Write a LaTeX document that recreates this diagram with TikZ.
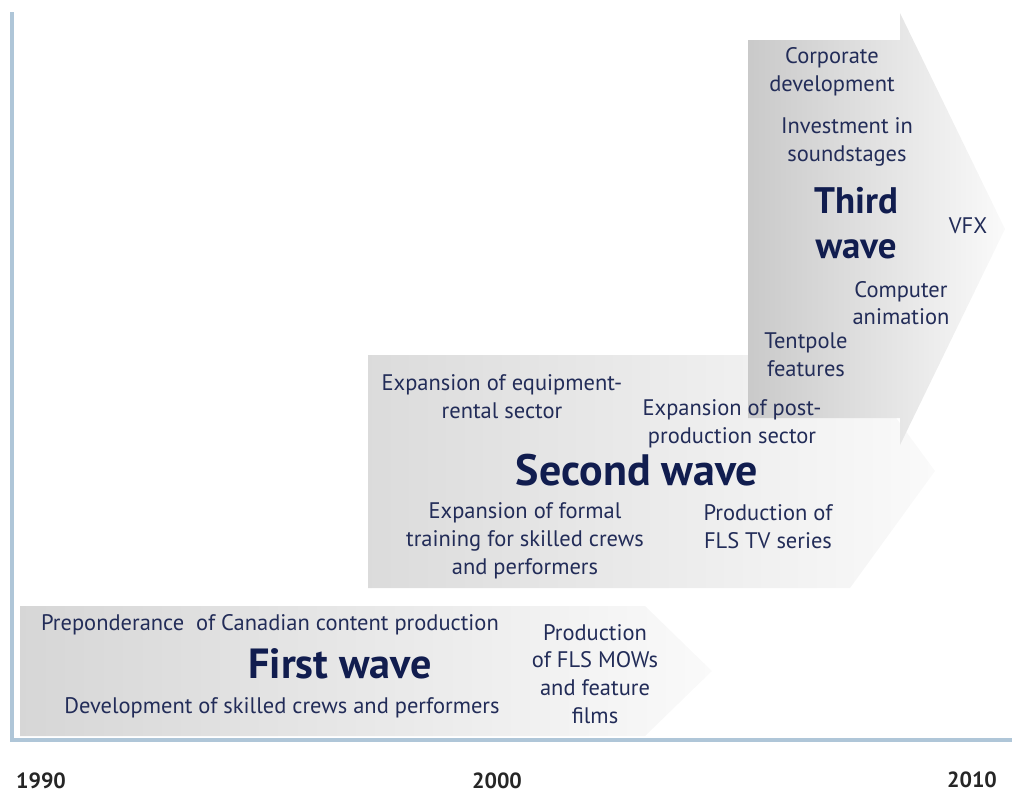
\documentclass[tikz,border=0pt]{standalone}
\usepackage{fontspec}
\setmainfont{PT Sans}
\usetikzlibrary{positioning}
\definecolor{navy}{HTML}{222C58}
\definecolor{deepnavy}{HTML}{111D4F}
\definecolor{axisblue}{HTML}{AFC6D8}

\begin{document}
\begin{tikzpicture}[x=0.02cm, y=-0.02cm,
				note/.style={text=navy, align=center, inner sep=0pt,
					font=\fontsize{12.8}{15.8}\selectfont},
				wave/.style={text=deepnavy, align=center, inner sep=0pt,
					font=\fontsize{24}{26}\selectfont\bfseries},
				year/.style={text=black!85, inner sep=0pt,
					font=\fontsize{12.5}{15}\selectfont\bfseries},
				band/.style={left color=black!16, right color=black!2, draw=none}]
				\useasboundingbox (0,0) rectangle (1012,796);
				% axes
				\coordinate (top) at (12,12);
				\coordinate (origin) at (12,740);
				\coordinate (right) at (1012,740);
				\draw[axisblue, line width=1.8pt] (top) -- (origin) -- (right);
				% the three waves
				\shade[band] (20,606) -- (645,606) -- (712,671) -- (645,736) -- (20,736) -- cycle;
				\shade[band, left color=black!14] (368,355) -- (850,355) -- (935,471) -- (850,588) -- (368,588) -- cycle;
				\shade[band, left color=black!21] (748,40) -- (900,40) -- (900,13) -- (1005,229) -- (900,445) -- (900,418) -- (748,418) -- cycle;
				% first wave
				\node[note] (canadian) at (270,625) {Preponderance\ \ of Canadian content production};
				\node[wave] (first) at (340,664) {First wave};
				\node[note] (crews) at (282,708) {Development of skilled crews and performers};
				\node[note] (mows) at (595,674) {Production\\of FLS MOWs\\and feature\\films};
				% second wave
				\begin{scope}[every node/.append style={font=\fontsize{13.6}{16.4}\selectfont}]
				\node[note] (rental) at (502,397) {Expansion of equipment-\\rental sector};
				\node[note] (post) at (732,424) {Expansion of post-\\production sector};
				\node[note] (training) at (525,541) {Expansion of formal\\training for skilled crews\\and performers};
				\node[note] (tvseries) at (768,527) {Production of\\FLS TV series};
				\end{scope}
				\node[wave, font=\fontsize{25}{26}\selectfont\bfseries] (second) at (637,470) {Second wave};
				% third wave
				\begin{scope}[every node/.append style={font=\fontsize{12}{15.8}\selectfont}]
				\node[note] (corporate) at (832,72) {Corporate\\development};
				\node[note] (soundstages) at (847,142) {Investment in\\soundstages};
				\node[note] (vfx) at (968,226) {VFX};
				\node[note] (animation) at (901,303) {Computer\\animation};
				\node[note] (tentpole) at (806,355) {Tentpole\\features};
				\end{scope}
				\node[wave, font=\fontsize{21}{26}\selectfont\bfseries] (third) at (856,223) {Third\\wave};
				% years
				\node[year] (y1990) at (41,781) {1990};
				\node[year] (y2000) at (497,781) {2000};
				\node[year] (y2010) at (972,780) {2010};
			\end{tikzpicture}
\end{document}
